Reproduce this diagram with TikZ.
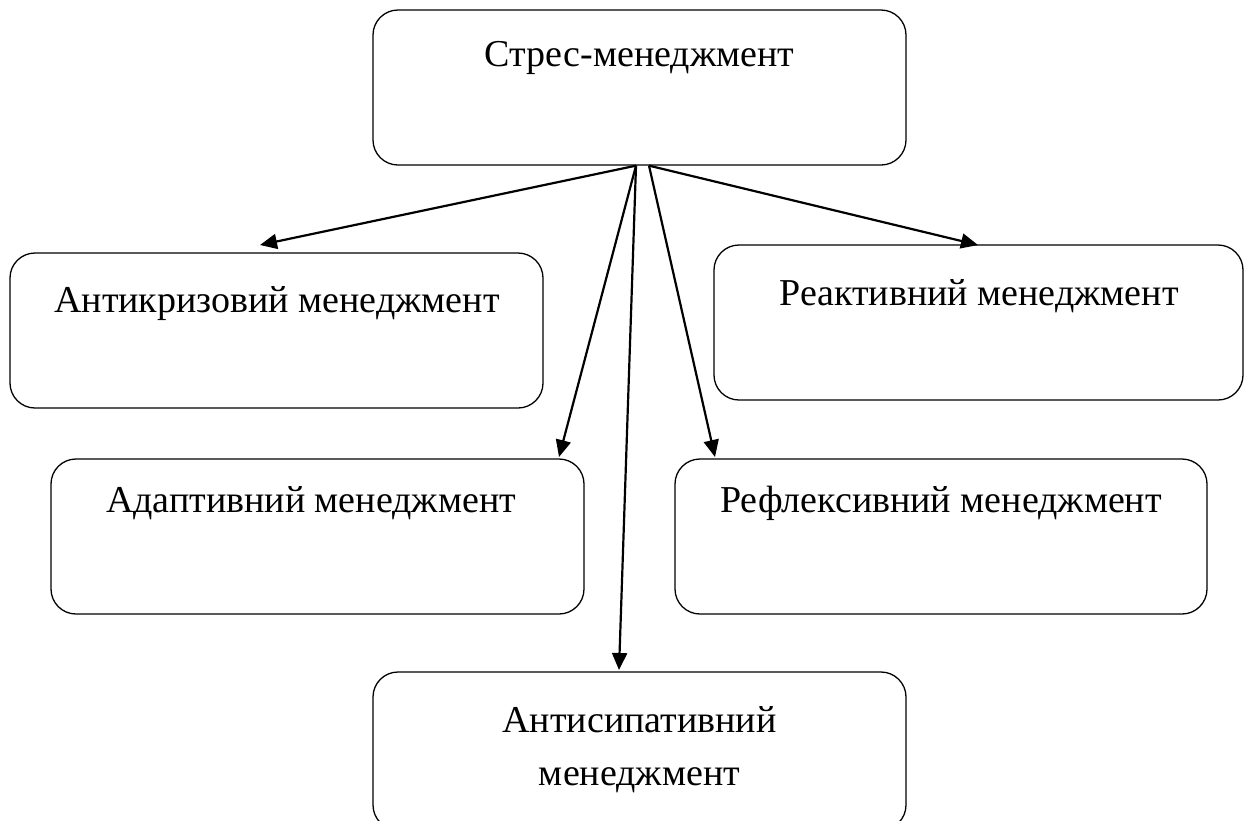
\documentclass[tikz,border=0pt]{standalone}
\usepackage{fontspec}
\setmainfont{Liberation Serif}
\usetikzlibrary{arrows.meta,calc}
\begin{document}
\begin{tikzpicture}[x=1pt,y=-1pt,
  box/.style={draw, line width=1.3pt, rounded corners=25pt, inner sep=0pt,
              minimum width=533pt, minimum height=155pt},
  txt/.style={anchor=base, inner sep=0pt, font=\fontsize{38}{52}\selectfont, align=center},
  link/.style={line width=2.2pt, -{Triangle[length=17pt,width=15pt]}}]
\useasboundingbox (0,0) rectangle (1248,820);
\fill[white] (0,0) rectangle (1248,820);

% rounded boxes
\node[box] (top) at (639.5,87.5) {};
\node[box] (anti) at (276.5,330.5) {};
\node[box, minimum width=529pt] (react) at (978.5,322.5) {};
\node[box] (adapt) at (317.5,536.5) {};
\node[box, minimum width=532pt] (refl) at (941,536.5) {};
\node[box, minimum height=158pt] (antis) at (639.5,751) {};

% labels
\node[txt] (ttop) at (639.5,66) {Стрес-менеджмент};
\node[txt] (tanti) at (277,312) {Антикризовий менеджмент};
\node[txt] (treact) at (979,305) {Реактивний менеджмент};
\node[txt] (tadapt) at (311,512) {Адаптивний менеджмент};
\node[txt] (trefl) at (941,512) {Рефлексивний менеджмент};
\node[txt] (tantis1) at (639.5,732) {Антисипативний};
\node[txt] (tantis2) at (639.5,785) {менеджмент};

% connector ends
\coordinate (o1) at ($(top.south)+(-3.5,0)$);
\coordinate (o2) at ($(top.south)+(9.5,0)$);
\coordinate (e1) at (260,245);
\coordinate (e2) at (559,457);
\coordinate (e3) at (619,670);
\coordinate (e4) at (715,457);
\coordinate (e5) at (978,245);

\draw[link] (o1) -- (e1);
\draw[link] (o1) -- (e2);
\draw[link] (o1) -- (e3);
\draw[link] (o2) -- (e4);
\draw[link] (o2) -- (e5);
\end{tikzpicture}
\end{document}
